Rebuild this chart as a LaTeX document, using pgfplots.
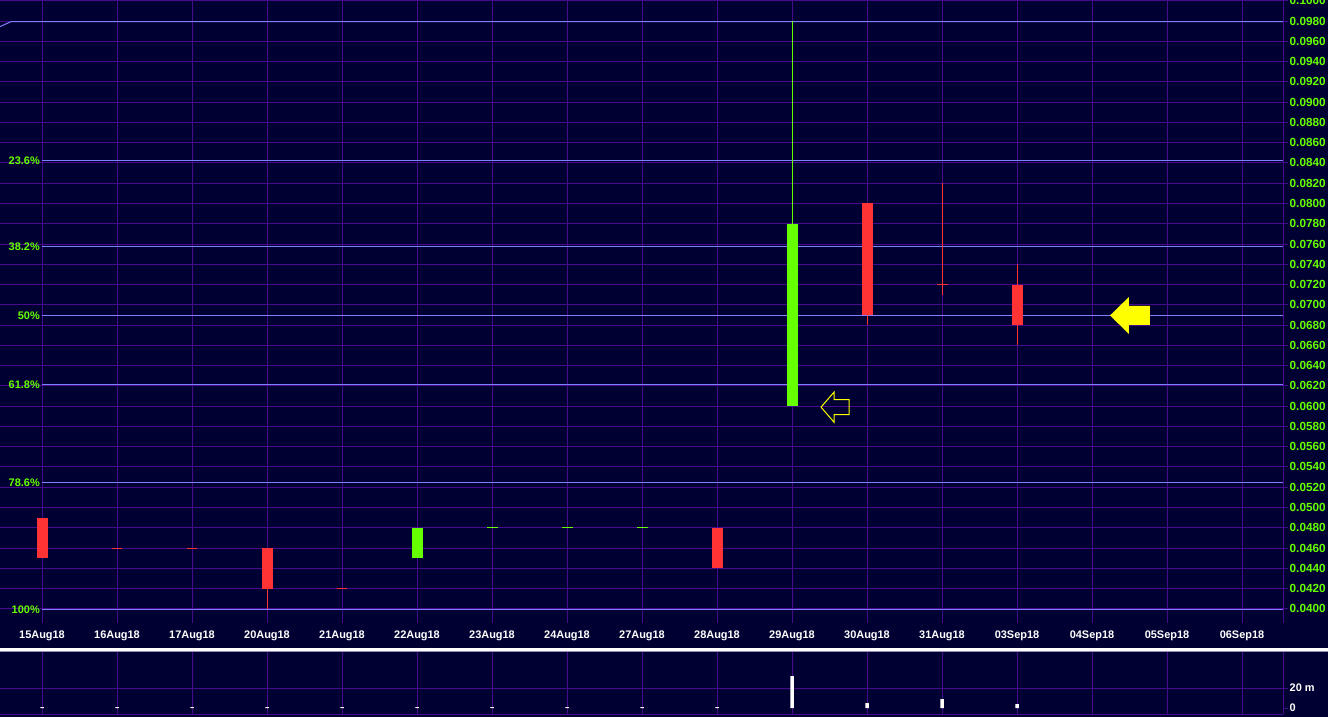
\documentclass[border=0pt]{standalone}
\usepackage{pgfplots}
\usepackage{pgfplotstable}
\pgfplotsset{compat=1.18}
\usepackage{fontspec}
\setmainfont{Liberation Sans}
\definecolor{bg}{RGB}{0,0,50}
\definecolor{gridc}{RGB}{70,10,140}
\definecolor{fibc}{RGB}{128,128,255}
\definecolor{labgreen}{RGB}{102,255,0}
\definecolor{candred}{RGB}{255,51,51}
\definecolor{candgreen}{RGB}{102,255,0}
\definecolor{arrowy}{RGB}{255,255,0}
\newcommand\labfont{\fontsize{11}{13}\selectfont\bfseries}
\newcommand\yfont{\fontsize{11.8}{13}\selectfont\bfseries}

\pgfplotstableread{
x open close
0 0.049 0.045
3 0.046 0.042
9 0.048 0.044
11 0.080 0.069
13 0.072 0.068
}\redbody
\pgfplotstableread{
x open close
5 0.045 0.048
10 0.060 0.078
}\greenbody
\pgfplotstableread{
x low high
3 0.040 0.046
11 0.068 0.080
12 0.071 0.082
13 0.066 0.074
}\redwick
\pgfplotstableread{
x low high
10 0.060 0.098
}\greenwick
\pgfplotstableread{
x y
1 0.046
2 0.046
4 0.042
12 0.072
}\redflat
\pgfplotstableread{
x y
6 0.048
7 0.048
8 0.048
}\greenflat
\pgfplotstableread{
x vol
0 0.9
1 0.9
2 0.9
3 0.9
4 0.9
5 0.9
6 0.9
7 0.9
8 0.9
9 0.9
10 32
11 5
12 9
13 4
}\volume

\pgfplotsset{candle/.style={draw=none, mark=none, fill=none, forget plot}}

\begin{document}
\begin{tikzpicture}
\useasboundingbox (0,0) rectangle (1328bp,-717bp);
\fill[bg] (0,0) rectangle (1328bp,-717bp);
\begin{axis}[
  at={(0,0)}, anchor=north west,
  scale only axis, width=1283bp, height=623bp,
  xmin=-0.56, xmax=16.5467, ymin=0.0386, ymax=0.10008,
  axis x line=bottom, axis y line=right,
  x axis line style={draw=none,-},
  y axis line style={draw=gridc, line width=1bp, -},
  xtick={0,...,16},
  xticklabels={15Aug18,16Aug18,17Aug18,20Aug18,21Aug18,22Aug18,23Aug18,24Aug18,27Aug18,28Aug18,29Aug18,30Aug18,31Aug18,03Sep18,04Sep18,05Sep18,06Sep18},
  x tick style={draw=none},
  ytick={0.040,0.042,0.044,0.046,0.048,0.050,0.052,0.054,0.056,0.058,0.060,0.062,0.064,0.066,0.068,0.070,0.072,0.074,0.076,0.078,0.080,0.082,0.084,0.086,0.088,0.090,0.092,0.094,0.096,0.098,0.100},
  scaled y ticks=false,
  y tick style={draw=gridc, line width=1bp},
  tick align=outside, major tick length=5bp,
  grid=major, major grid style={draw=gridc, line width=1bp},
  xticklabel style={font=\labfont, text=white, inner sep=2.5bp},
  yticklabel style={font=\yfont, text=labgreen, inner sep=1.5bp,
    /pgf/number format/.cd, fixed, fixed zerofill, precision=4, assume math mode=true},
  clip=true,
]
% Fibonacci lines
\addplot[fibc, line width=1bp] coordinates {(-0.56,0.09745) (-0.413,0.09795) (16.5467,0.09795)};
\addplot[fibc, line width=1bp] coordinates {(0,0.08425) (16.5467,0.08425)};
\addplot[fibc, line width=1bp] coordinates {(0,0.07578) (16.5467,0.07578)};
\addplot[fibc, line width=1bp] coordinates {(0,0.06895) (16.5467,0.06895)};
\addplot[fibc, line width=1bp] coordinates {(0,0.06213) (16.5467,0.06213)};
\addplot[fibc, line width=1bp] coordinates {(0,0.05243) (16.5467,0.05243)};
\addplot[fibc, line width=1bp] coordinates {(0,0.03995) (16.5467,0.03995)};
% wicks
\addplot[candle, error bars/.cd, y dir=both, y explicit, error mark=none,
  error bar style={draw=candred, line width=1bp}]
  table[x=x, y expr={(\thisrow{low}+\thisrow{high})/2}, y error expr={(\thisrow{high}-\thisrow{low})/2}] {\redwick};
\addplot[candle, error bars/.cd, y dir=both, y explicit, error mark=none,
  error bar style={draw=candgreen, line width=1bp}]
  table[x=x, y expr={(\thisrow{low}+\thisrow{high})/2}, y error expr={(\thisrow{high}-\thisrow{low})/2}] {\greenwick};
% bodies
\addplot[candle, error bars/.cd, y dir=both, y explicit, error mark=none,
  error bar style={draw=candred, line width=11bp}]
  table[x=x, y expr={(\thisrow{open}+\thisrow{close})/2}, y error expr={abs(\thisrow{open}-\thisrow{close})/2}] {\redbody};
\addplot[candle, error bars/.cd, y dir=both, y explicit, error mark=none,
  error bar style={draw=candgreen, line width=11bp}]
  table[x=x, y expr={(\thisrow{open}+\thisrow{close})/2}, y error expr={abs(\thisrow{open}-\thisrow{close})/2}] {\greenbody};
% flat candles
\addplot[candle, error bars/.cd, x dir=both, x fixed=0.0733, error mark=none,
  error bar style={draw=candred, line width=1bp}]
  table[x=x, y=y] {\redflat};
\addplot[candle, error bars/.cd, x dir=both, x fixed=0.0733, error mark=none,
  error bar style={draw=candgreen, line width=1bp}]
  table[x=x, y=y] {\greenflat};
% arrows
\addplot[draw=arrowy, line width=1bp] coordinates {(10.387,0.0599) (10.56,0.06138) (10.56,0.06064) (10.76,0.06064) (10.76,0.05916) (10.56,0.05916) (10.56,0.05842) (10.387,0.0599)};
\addplot[fill=arrowy, draw=none] coordinates {(14.24,0.06895) (14.493,0.07078) (14.493,0.06989) (14.773,0.06989) (14.773,0.06801) (14.493,0.06801) (14.493,0.06712) (14.24,0.06895)};
% fib labels
\node[anchor=east, text=labgreen, font=\labfont, inner sep=0pt] at (axis cs:-0.027,0.08425) {23.6\%};
\node[anchor=east, text=labgreen, font=\labfont, inner sep=0pt] at (axis cs:-0.027,0.07578) {38.2\%};
\node[anchor=east, text=labgreen, font=\labfont, inner sep=0pt] at (axis cs:-0.027,0.06895) {50\%};
\node[anchor=east, text=labgreen, font=\labfont, inner sep=0pt] at (axis cs:-0.027,0.06213) {61.8\%};
\node[anchor=east, text=labgreen, font=\labfont, inner sep=0pt] at (axis cs:-0.027,0.05243) {78.6\%};
\node[anchor=east, text=labgreen, font=\labfont, inner sep=0pt] at (axis cs:-0.027,0.03995) {100\%};
\end{axis}

\draw[white, line width=2.5bp] (0,-649.7bp) -- (1328bp,-649.7bp);
\draw[color={rgb,255:red,150;green,140;blue,175}, line width=1bp] (0,-651.6bp) -- (1328bp,-651.6bp);

\begin{axis}[
  at={(0,-652bp)}, anchor=north west,
  scale only axis, width=1283bp, height=62bp,
  xmin=-0.56, xmax=16.5467, ymin=-6, ymax=56,
  axis x line=bottom, axis y line=right,
  x axis line style={draw=gridc, line width=1bp, -},
  y axis line style={draw=gridc, line width=1bp, -},
  xtick={0,...,16}, xticklabels={},
  x tick style={draw=none},
  ytick={20}, yticklabels={20 m},
  extra y ticks={0}, extra y tick labels={0},
  extra y tick style={grid=none},
  y tick style={draw=gridc, line width=1bp},
  tick align=outside, major tick length=5bp,
  grid=major, major grid style={draw=gridc, line width=1bp},
  yticklabel style={font=\labfont, text=white, inner sep=1.5bp},
  ybar, bar width=3.5bp,
]
\addplot[fill=white, draw=none] table[x=x, y=vol] {\volume};
\end{axis}
\end{tikzpicture}
\end{document}
